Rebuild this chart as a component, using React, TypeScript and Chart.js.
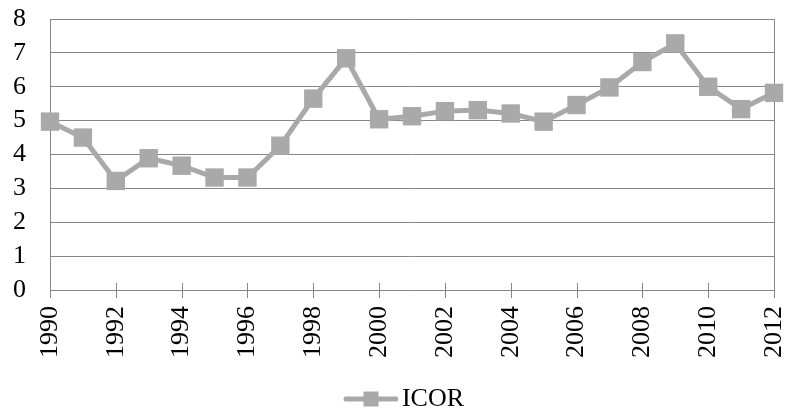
import React, { useEffect, useRef } from 'react';
import { Chart, registerables } from 'chart.js';

Chart.register(...registerables);

const years = [1990, 1991, 1992, 1993, 1994, 1995, 1996, 1997, 1998, 1999, 2000, 2001, 2002, 2003, 2004, 2005, 2006, 2007, 2008, 2009, 2010, 2011, 2012];
const icor = [4.97, 4.5, 3.22, 3.89, 3.67, 3.32, 3.32, 4.26, 5.65, 6.84, 5.04, 5.13, 5.28, 5.31, 5.21, 4.97, 5.46, 5.98, 6.73, 7.28, 6.0, 5.34, 5.82];
const seriesName = 'ICOR';
const yMin = 0;
const yMax = 8;
const yStep = 1;
const xStep = 2;

const lineColor = '#a9a9a9';
const gridColor = '#878787';
const fontFamily = '"Liberation Serif", "Times New Roman", serif';

const framePlugin = {
  id: 'frame',
  beforeDatasetsDraw(chart: any) {
    const { ctx, chartArea, scales } = chart;
    const { right, bottom, top } = chartArea;
    ctx.save();
    ctx.strokeStyle = gridColor;
    ctx.lineWidth = 1;
    ctx.beginPath();
    const rx = Math.round(right) + 0.5;
    ctx.moveTo(rx, top);
    ctx.lineTo(rx, bottom);
    scales.x.ticks.forEach((t: any) => {
      const px = Math.round(scales.x.getPixelForValue(t.value)) + 0.5;
      ctx.moveTo(px, bottom - 7);
      ctx.lineTo(px, bottom + 8);
    });
    ctx.stroke();
    ctx.restore();
  },
};

// legend symbol: transparent left part, visible line + square on the right
function makeLegendImage() {
  const c = document.createElement('canvas');
  c.width = 93;
  c.height = 18;
  const g = c.getContext('2d')!;
  g.strokeStyle = lineColor;
  g.lineWidth = 5;
  g.lineCap = 'round';
  g.beginPath();
  g.moveTo(41, 9);
  g.lineTo(91, 9);
  g.stroke();
  g.fillStyle = lineColor;
  g.fillRect(66 - 7.5, 9 - 7.5, 15, 15);
  return c;
}

export default function App() {
  const ref = useRef<HTMLCanvasElement>(null);
  useEffect(() => {
    if (!ref.current) return;
    const img = makeLegendImage();
    const chart = new Chart(ref.current, {
      type: 'line',
      data: {
        datasets: [
          {
            label: seriesName,
            data: years.map((y, i) => ({ x: y, y: icor[i] })),
            borderColor: lineColor,
            backgroundColor: lineColor,
            borderWidth: 5,
            pointStyle: 'rect',
            pointRadius: 13,
            pointBorderWidth: 0,
            pointBackgroundColor: lineColor,
            tension: 0,
            clip: false as any,
          },
        ],
      },
      options: {
        animation: false,
        responsive: true,
        maintainAspectRatio: false,
        layout: { padding: { top: 19, right: 9, left: 0, bottom: 0 } },
        scales: {
          x: {
            type: 'linear',
            min: years[0],
            max: years[years.length - 1],
            afterFit: (s: any) => {
              s.height = 96;
              s.paddingLeft = 0;
              s.paddingRight = 0;
            },
            ticks: {
              stepSize: xStep,
              autoSkip: false,
              minRotation: 90,
              maxRotation: 90,
              padding: 0,
              color: '#000',
              font: { family: fontFamily, size: 26 },
              callback: (v: any) => String(v),
            },
            grid: { drawOnChartArea: false, drawTicks: true, tickLength: 16, color: gridColor, tickColor: 'rgba(0,0,0,0)' },
            border: { color: gridColor, width: 1 },
          },
          y: {
            min: yMin,
            max: yMax,
            afterFit: (s: any) => {
              s.width = 50;
              s.paddingTop = 0;
              s.paddingBottom = 0;
            },
            ticks: {
              stepSize: yStep,
              autoSkip: false,
              padding: 24,
              color: '#000',
              font: { family: fontFamily, size: 26 },
            },
            grid: { color: gridColor, drawTicks: false },
            border: { color: gridColor, width: 1 },
          },
        },
        plugins: {
          tooltip: { enabled: false },
          legend: {
            display: true,
            position: 'bottom',
            maxHeight: 26,
            labels: {
              usePointStyle: true,
              pointStyleWidth: 75,
              padding: 0,
              color: '#000',
              font: { family: fontFamily, size: 26 },
              generateLabels: () => [
                {
                  text: seriesName,
                  pointStyle: img as any,
                  fillStyle: lineColor,
                  strokeStyle: lineColor,
                  lineWidth: 0,
                  hidden: false,
                  datasetIndex: 0,
                  fontColor: '#000',
                } as any,
              ],
            },
          },
        },
      } as any,
      plugins: [framePlugin],
    });
    return () => chart.destroy();
  }, []);
  return (
    <div style={{ position: 'fixed', left: 0, top: 0, width: 787, height: 412 }}>
      <canvas ref={ref} />
    </div>
  );
}
